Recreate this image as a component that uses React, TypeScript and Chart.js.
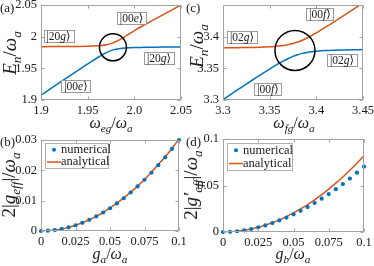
import React, { useEffect, useRef } from "react";
import { Chart, registerables } from "chart.js";

Chart.register(...registerables);

const BLUE = "#0072BD";
const ORANGE = "#D95319";
const SERIF = '"Liberation Serif", "DejaVu Serif", "Times New Roman", serif';
const AXIS_GRAY = "#a3a3a3";
const TEXT = "#202020";
const TICK_SIZE = 12.5;
const XT_SIZE = 16;
const YT_SIZE = 19;

// ---------- panel (a) ----------
const aX = [1.9, 1.91, 1.92, 1.93, 1.94, 1.95, 1.955, 1.96, 1.965, 1.97, 1.975, 1.98, 1.985, 1.99, 1.995, 2.0, 2.01, 2.02, 2.03, 2.04, 2.05];
const aUpper = [1.9842, 1.9843, 1.9843, 1.9845, 1.9846, 1.9849, 1.9852, 1.9856, 1.9862, 1.9873, 1.989, 1.9919, 1.9956, 1.9999, 2.0048, 2.0095, 2.018, 2.026, 2.034, 2.042, 2.05];
const aLower = [1.9076, 1.9176, 1.9275, 1.9374, 1.9472, 1.9569, 1.9617, 1.9663, 1.9707, 1.9747, 1.978, 1.9802, 1.9814, 1.9821, 1.9825, 1.9828, 1.9831, 1.9833, 1.9835, 1.9835, 1.9836];
const aXTicks = [1.9, 1.95, 2.0, 2.05];
const aXLabels = ["1.9", "1.95", "2.0", "2.05"];
const aYTicks = [1.9, 1.95, 2.0, 2.05];
const aYLabels = ["1.9", "1.95", "2", "2.05"];

// ---------- panel (c) ----------
const cX = [3.3, 3.31, 3.32, 3.33, 3.34, 3.35, 3.355, 3.36, 3.365, 3.37, 3.375, 3.38, 3.385, 3.39, 3.395, 3.4, 3.41, 3.42, 3.43, 3.44, 3.45];
const cUpper = [3.3823, 3.3824, 3.3827, 3.383, 3.3834, 3.3841, 3.3846, 3.3853, 3.3862, 3.3875, 3.3892, 3.3915, 3.3944, 3.3979, 3.4018, 3.406, 3.415, 3.4243, 3.4339, 3.4436, 3.4534];
const cLower = [3.3008, 3.3106, 3.3204, 3.33, 3.3396, 3.3489, 3.3534, 3.3577, 3.3618, 3.3655, 3.3688, 3.3715, 3.3736, 3.3751, 3.3762, 3.377, 3.3781, 3.3787, 3.3791, 3.3794, 3.3796];
const cXTicks = [3.3, 3.35, 3.4, 3.45];
const cXLabels = ["3.3", "3.35", "3.4", "3.45"];
const cYTicks = [3.3, 3.35, 3.4];
const cYLabels = ["3.3", "3.35", "3.4"];

// ---------- panel (b) ----------
const bX = [0, 0.005, 0.01, 0.015, 0.02, 0.025, 0.03, 0.035, 0.04, 0.045, 0.05, 0.055, 0.06, 0.065, 0.07, 0.075, 0.08, 0.085, 0.09, 0.095, 0.1];
const bNumerical = [0, 0.0001, 0.0003, 0.0007, 0.0012, 0.0019, 0.0027, 0.0037, 0.0048, 0.0061, 0.0075, 0.0091, 0.0108, 0.0127, 0.0147, 0.0169, 0.0192, 0.0217, 0.0243, 0.0271, 0.03];
const bAnalytical = [0, 0.0001, 0.0003, 0.0007, 0.0012, 0.0019, 0.0027, 0.0037, 0.0048, 0.0061, 0.0076, 0.0092, 0.0109, 0.0128, 0.0148, 0.017, 0.0194, 0.0219, 0.0245, 0.0273, 0.0303];
const bXTicks = [0, 0.025, 0.05, 0.075, 0.1];
const bXLabels = ["0", "0.025", "0.05", "0.075", "0.1"];
const bYTicks = [0, 0.01, 0.02, 0.03];
const bYLabels = ["0", "0.01", "0.02", "0.03"];

// ---------- panel (d) ----------
const dX = [0, 0.005, 0.01, 0.015, 0.02, 0.025, 0.03, 0.035, 0.04, 0.045, 0.05, 0.055, 0.06, 0.065, 0.07, 0.075, 0.08, 0.085, 0.09, 0.095, 0.1];
const dNumerical = [0, 0.0002, 0.0008, 0.0018, 0.0032, 0.005, 0.0071, 0.0096, 0.0124, 0.0155, 0.019, 0.0228, 0.0268, 0.0312, 0.0358, 0.0408, 0.046, 0.0515, 0.0575, 0.0638, 0.0703];
const dAnalytical = [0, 0.0002, 0.0008, 0.0018, 0.0033, 0.0051, 0.0074, 0.01, 0.0131, 0.0166, 0.0205, 0.0248, 0.0295, 0.0346, 0.0402, 0.0461, 0.0525, 0.0592, 0.0664, 0.074, 0.082];
const dXTicks = [0, 0.025, 0.05, 0.075, 0.1];
const dXLabels = ["0", "0.025", "0.05", "0.075", "0.1"];
const dYTicks = [0, 0.05, 0.1];
const dYLabels = ["0", "0.05", "0.1"];

// ---------- math text helpers ----------
type Seg = { t: string; i?: boolean; s?: "sub" | "sup" };

function fontFor(seg: Seg, size: number) {
  const sz = seg.s ? size * 0.7 : size;
  return `${seg.i ? "italic " : ""}${sz}px ${SERIF}`;
}
function mathWidth(ctx: CanvasRenderingContext2D, segs: Seg[], size: number) {
  let w = 0;
  for (const sg of segs) {
    ctx.font = fontFor(sg, size);
    w += ctx.measureText(sg.t).width;
  }
  return w;
}
function drawMath(ctx: CanvasRenderingContext2D, segs: Seg[], x: number, y: number, size: number, align: "center" | "left" = "center") {
  const w = mathWidth(ctx, segs, size);
  let cx = align === "center" ? x - w / 2 : x;
  ctx.textBaseline = "alphabetic";
  ctx.textAlign = "left";
  for (const sg of segs) {
    ctx.font = fontFor(sg, size);
    const dy = sg.s === "sub" ? size * 0.25 : sg.s === "sup" ? -size * 0.4 : 0;
    ctx.fillText(sg.t, cx, y + dy);
    cx += ctx.measureText(sg.t).width;
  }
}

const ket = (a: string, b: string): Seg[] => [{ t: "|" }, { t: a }, { t: b, i: true }, { t: "\u27E9" }];

interface PanelCfg {
  tag: string;
  tagPos: [number, number];
  xTitle: Seg[];
  xTitlePos: [number, number];
  yTitle: Seg[];
  yTitlePos: [number, number];
  kets?: { segs: Seg[]; x: number; y: number }[];
  circle?: { x: number; y: number; r: number };
  legend?: { x: number; y: number; w: number; h: number };
}

function panelPlugin(cfg: PanelCfg) {
  return {
    id: "panel" + cfg.tag,
    afterDraw(chart: any) {
      const ctx: CanvasRenderingContext2D = chart.ctx;
      const { left, right, top, bottom } = chart.chartArea;
      const xs = chart.scales.x;
      const ys = chart.scales.y;
      ctx.save();
      // box
      ctx.strokeStyle = AXIS_GRAY;
      ctx.lineWidth = 1;
      const L = Math.round(left) + 0.5, R = Math.round(right) - 0.5;
      const T = Math.round(top) + 0.5, B = Math.round(bottom) - 0.5;
      ctx.strokeRect(L, T, R - L, B - T);
      // inward ticks
      ctx.beginPath();
      for (const t of xs.ticks) {
        const px = Math.round(xs.getPixelForValue(t.value)) + 0.5;
        ctx.moveTo(px, B); ctx.lineTo(px, B - 3);
        ctx.moveTo(px, T); ctx.lineTo(px, T + 3);
      }
      for (const t of ys.ticks) {
        const py = Math.round(ys.getPixelForValue(t.value)) + 0.5;
        ctx.moveTo(L, py); ctx.lineTo(L + 3, py);
        ctx.moveTo(R, py); ctx.lineTo(R - 3, py);
      }
      ctx.stroke();

      ctx.fillStyle = TEXT;
      // panel tag
      ctx.font = `13px ${SERIF}`;
      ctx.textAlign = "left";
      ctx.textBaseline = "alphabetic";
      ctx.fillText(cfg.tag, cfg.tagPos[0], cfg.tagPos[1]);
      // x title
      drawMath(ctx, cfg.xTitle, cfg.xTitlePos[0], cfg.xTitlePos[1], XT_SIZE);
      // y title (rotated)
      ctx.save();
      ctx.translate(cfg.yTitlePos[0], cfg.yTitlePos[1]);
      ctx.rotate(-Math.PI / 2);
      drawMath(ctx, cfg.yTitle, 0, YT_SIZE * 0.33, YT_SIZE);
      ctx.restore();

      // circle
      if (cfg.circle) {
        const cx = xs.getPixelForValue(cfg.circle.x);
        const cy = ys.getPixelForValue(cfg.circle.y);
        ctx.beginPath();
        ctx.strokeStyle = "#000";
        ctx.lineWidth = 1.5;
        ctx.arc(cx, cy, cfg.circle.r, 0, Math.PI * 2);
        ctx.stroke();
      }
      // ket labels
      if (cfg.kets) {
        for (const k of cfg.kets) {
          const cx = xs.getPixelForValue(k.x);
          const cy = ys.getPixelForValue(k.y);
          const w = mathWidth(ctx, k.segs, 11.5) + 6;
          const h = 12;
          ctx.fillStyle = "#fff";
          ctx.fillRect(Math.round(cx - w / 2) + 0.5, Math.round(cy - h / 2) + 0.5, Math.round(w), h);
          ctx.strokeStyle = "#9a9a9a";
          ctx.lineWidth = 1;
          ctx.strokeRect(Math.round(cx - w / 2) + 0.5, Math.round(cy - h / 2) + 0.5, Math.round(w), h);
          ctx.fillStyle = TEXT;
          drawMath(ctx, k.segs, cx, cy + 4, 11.5);
        }
      }
      // legend
      if (cfg.legend) {
        const lg = cfg.legend;
        ctx.fillStyle = "#fff";
        ctx.fillRect(lg.x + 0.5, lg.y + 0.5, lg.w, lg.h);
        ctx.strokeStyle = "#b0b0b0";
        ctx.lineWidth = 1;
        ctx.strokeRect(lg.x + 0.5, lg.y + 0.5, lg.w, lg.h);
        const r1 = lg.y + lg.h * 0.27;
        const r2 = lg.y + lg.h * 0.76;
        ctx.fillStyle = BLUE;
        ctx.beginPath();
        ctx.arc(lg.x + 9, r1, 2, 0, Math.PI * 2);
        ctx.fill();
        ctx.strokeStyle = ORANGE;
        ctx.lineWidth = 1.5;
        ctx.beginPath();
        ctx.moveTo(lg.x + 2, r2);
        ctx.lineTo(lg.x + 16, r2);
        ctx.stroke();
        ctx.fillStyle = TEXT;
        ctx.font = `12.5px ${SERIF}`;
        ctx.textAlign = "left";
        ctx.textBaseline = "middle";
        ctx.fillText("numerical", lg.x + 16, r1);
        ctx.fillText("analytical", lg.x + 16, r2);
      }
      ctx.restore();
    },
  };
}

interface AxisSpec { min: number; max: number; ticks: number[]; labels: string[]; size: number; padding: number }

function axis(spec: AxisSpec, horizontal: boolean) {
  return {
    type: "linear",
    position: horizontal ? "bottom" : "left",
    min: spec.min,
    max: spec.max,
    grid: { display: false, drawTicks: false },
    border: { display: false },
    ticks: {
      font: { family: SERIF, size: TICK_SIZE },
      color: TEXT,
      padding: spec.padding,
      autoSkip: false,
      maxRotation: 0,
      minRotation: 0,
      callback: (_v: any, i: number) => spec.labels[i],
    },
    afterBuildTicks: (s: any) => {
      s.ticks = spec.ticks.map((v) => ({ value: v }));
    },
    afterFit: (s: any) => {
      if (horizontal) s.height = spec.size;
      else s.width = spec.size;
      s.paddingLeft = 0;
      s.paddingRight = 0;
      s.paddingTop = 0;
      s.paddingBottom = 0;
    },
  };
}

const pts = (xs: number[], ys: number[]) => xs.map((x, i) => ({ x, y: ys[i] }));

const lineDs = (data: any, color: string) => ({
  data,
  borderColor: color,
  backgroundColor: color,
  borderWidth: 1.5,
  pointRadius: 0,
  fill: false,
  cubicInterpolationMode: "monotone",
});
const dotDs = (data: any) => ({
  data,
  showLine: false,
  borderColor: BLUE,
  backgroundColor: BLUE,
  pointBackgroundColor: BLUE,
  pointBorderWidth: 0,
  pointRadius: 2.1,
  clip: false,
});

const SPECS = [
  {
    pad: { left: 0, right: 193, top: 5, bottom: 146 },
    x: { min: 1.9, max: 2.05, ticks: aXTicks, labels: aXLabels, size: 20, padding: 3 },
    y: { min: 1.9, max: 2.05, ticks: aYTicks, labels: aYLabels, size: 41, padding: 4 },
    datasets: [lineDs(pts(aX, aUpper), ORANGE), lineDs(pts(aX, aLower), BLUE)],
    panel: {
      tag: "(a)", tagPos: [0, 12],
      xTitle: [{ t: "\u03C9", i: true }, { t: "eg", i: true, s: "sub" }, { t: "/" }, { t: "\u03C9", i: true }, { t: "a", i: true, s: "sub" }],
      xTitlePos: [111, 128],
      yTitle: [{ t: "E", i: true }, { t: "n", i: true, s: "sub" }, { t: "/" }, { t: "\u03C9", i: true }, { t: "a", i: true, s: "sub" }],
      yTitlePos: [10, 53],
      kets: [
        { segs: ket("20", "g"), x: 1.9188, y: 2.0003 },
        { segs: ket("00", "e"), x: 1.997, y: 2.0295 },
        { segs: ket("20", "g"), x: 2.0264, y: 1.9663 },
        { segs: ket("00", "e"), x: 1.9375, y: 1.922 },
      ],
      circle: { x: 1.9771, y: 1.9832, r: 13.5 },
    } as PanelCfg,
  },
  {
    pad: { left: 178, right: 11, top: 5, bottom: 146 },
    x: { min: 3.3, max: 3.45, ticks: cXTicks, labels: cXLabels, size: 20, padding: 3 },
    y: { min: 3.3, max: 3.45, ticks: cYTicks, labels: cYLabels, size: 45, padding: 4 },
    datasets: [lineDs(pts(cX, cUpper), ORANGE), lineDs(pts(cX, cLower), BLUE)],
    panel: {
      tag: "(c)", tagPos: [186, 12],
      xTitle: [{ t: "\u03C9", i: true }, { t: "fg", i: true, s: "sub" }, { t: "/" }, { t: "\u03C9", i: true }, { t: "a", i: true, s: "sub" }],
      xTitlePos: [294, 128],
      yTitle: [{ t: "E", i: true }, { t: "n", i: true, s: "sub" }, { t: "/" }, { t: "\u03C9", i: true }, { t: "a", i: true, s: "sub" }],
      yTitlePos: [197, 46],
      kets: [
        { segs: ket("02", "g"), x: 3.3204, y: 3.3987 },
        { segs: ket("00", "f"), x: 3.4039, y: 3.4358 },
        { segs: ket("02", "g"), x: 3.4275, y: 3.3624 },
        { segs: ket("00", "f"), x: 3.3482, y: 3.3174 },
      ],
      circle: { x: 3.3771, y: 3.3782, r: 20 },
    } as PanelCfg,
  },
  {
    pad: { left: 0, right: 195, top: 140, bottom: 15 },
    x: { min: 0, max: 0.1, ticks: bXTicks, labels: bXLabels, size: 20, padding: 3 },
    y: { min: 0, max: 0.03, ticks: bYTicks, labels: bYLabels, size: 41, padding: 4 },
    datasets: [dotDs(pts(bX, bNumerical)), lineDs(pts(bX, bAnalytical), ORANGE)],
    panel: {
      tag: "(b)", tagPos: [0, 146],
      xTitle: [{ t: "g", i: true }, { t: "a", i: true, s: "sub" }, { t: "/" }, { t: "\u03C9", i: true }, { t: "a", i: true, s: "sub" }],
      xTitlePos: [110, 259],
      yTitle: [{ t: "2|" }, { t: "g", i: true }, { t: "eff", i: true, s: "sub" }, { t: "|/" }, { t: "\u03C9", i: true }, { t: "a", i: true, s: "sub" }],
      yTitlePos: [9, 185],
      legend: { x: 45, y: 143, w: 63, h: 25 },
    } as PanelCfg,
  },
  {
    pad: { left: 178, right: 10, top: 139, bottom: 14 },
    x: { min: 0, max: 0.1, ticks: dXTicks, labels: dXLabels, size: 20, padding: 3 },
    y: { min: 0, max: 0.1, ticks: dYTicks, labels: dYLabels, size: 45, padding: 4 },
    datasets: [dotDs(pts(dX, dNumerical)), lineDs(pts(dX, dAnalytical), ORANGE)],
    panel: {
      tag: "(d)", tagPos: [186, 146],
      xTitle: [{ t: "g", i: true }, { t: "b", i: true, s: "sub" }, { t: "/" }, { t: "\u03C9", i: true }, { t: "a", i: true, s: "sub" }],
      xTitlePos: [293, 259],
      yTitle: [{ t: "2|" }, { t: "g\u2032", i: true }, { t: "eff", i: true, s: "sub" }, { t: "|/" }, { t: "\u03C9", i: true }, { t: "a", i: true, s: "sub" }],
      yTitlePos: [191, 185],
      legend: { x: 227, y: 143, w: 65, h: 27 },
    } as PanelCfg,
  },
];

function makeChart(canvas: HTMLCanvasElement, spec: any) {
  return new Chart(canvas, {
    type: "line",
    data: { datasets: spec.datasets },
    options: {
      animation: false,
      responsive: false,
      devicePixelRatio: 1,
      events: [],
      layout: { padding: spec.pad },
      plugins: { legend: { display: false }, tooltip: { enabled: false } },
      scales: { x: axis(spec.x, true), y: axis(spec.y, false) },
    } as any,
    plugins: [panelPlugin(spec.panel)],
  } as any);
}

export default function App() {
  const r0 = useRef<HTMLCanvasElement>(null);
  const r1 = useRef<HTMLCanvasElement>(null);
  const r2 = useRef<HTMLCanvasElement>(null);
  const r3 = useRef<HTMLCanvasElement>(null);
  const refs = [r0, r1, r2, r3];
  useEffect(() => {
    const charts = SPECS.map((s, i) => makeChart(refs[i].current as HTMLCanvasElement, s));
    return () => charts.forEach((c) => c.destroy());
  }, []);
  return (
    <div style={{ position: "absolute", left: 0, top: 0, width: 374, height: 266, background: "#fff", overflow: "hidden" }}>
      {refs.map((r, i) => (
        <canvas key={i} ref={r} width={374} height={266} style={{ position: "absolute", left: 0, top: 0, width: 374, height: 266 }} />
      ))}
    </div>
  );
}
